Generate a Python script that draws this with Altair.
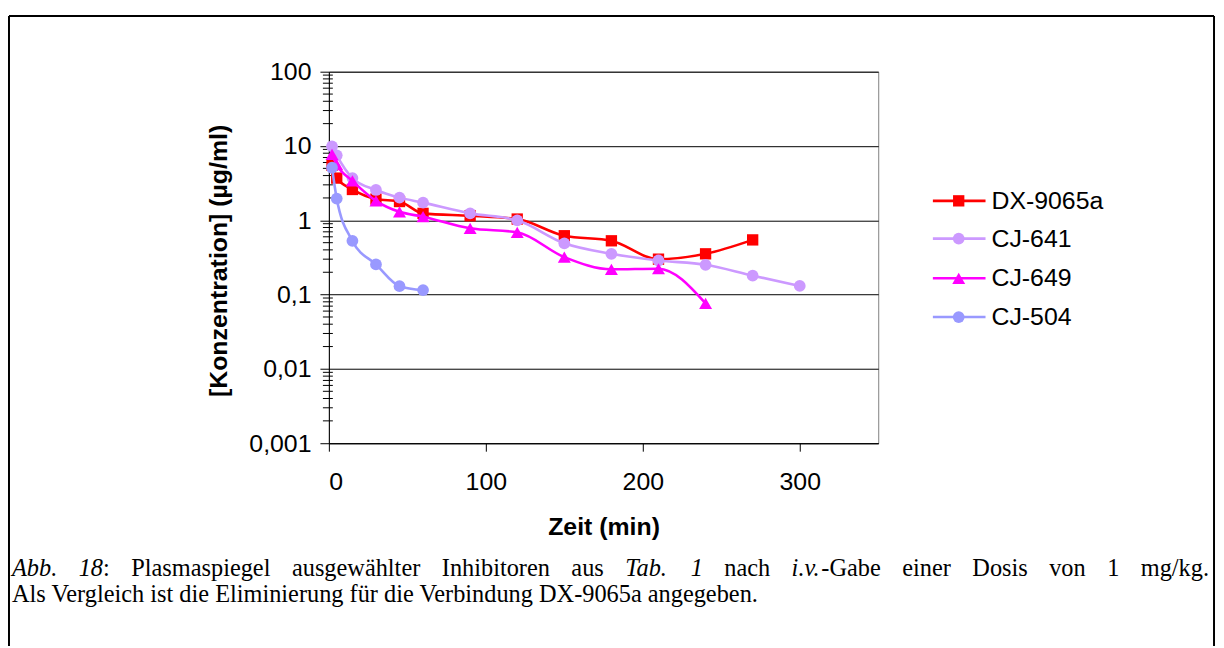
import altair as alt
import pandas as pd

# ---------------- data ----------------
series_names = ["DX-9065a", "CJ-641", "CJ-649", "CJ-504"]
series_colors = ["#FF0000", "#CC99FF", "#FF00FF", "#9999FF"]
series_shapes = ["square", "circle", "triangle-up", "circle"]
series_sizes = [130, 140, 170, 140]

time_dx = [2, 5, 15, 30, 45, 60, 90, 120, 150, 180, 210, 240, 270]
conc_dx = [5.5, 3.7, 2.6, 1.93, 1.79, 1.24, 1.15, 1.04, 0.62, 0.53, 0.30, 0.354, 0.545]

time_641 = [2, 5, 15, 30, 45, 60, 90, 120, 150, 180, 210, 240, 270, 300]
conc_641 = [9.9, 7.5, 3.7, 2.56, 2.02, 1.73, 1.24, 1.0, 0.49, 0.354, 0.288, 0.252, 0.18, 0.131]

time_649 = [2, 5, 15, 30, 45, 60, 90, 120, 150, 180, 210, 240]
conc_649 = [7.7, 5.6, 3.4, 1.83, 1.30, 1.12, 0.78, 0.69, 0.32, 0.219, 0.223, 0.076]

time_504 = [2, 5, 15, 30, 45, 60]
conc_504 = [5.1, 1.96, 0.53, 0.255, 0.13, 0.115]

series_times = [time_dx, time_641, time_649, time_504]
series_concs = [conc_dx, conc_641, conc_649, conc_504]

y_tick_values = [0.001, 0.01, 0.1, 1, 10, 100]
x_tick_values = [0, 100, 200, 300]
minor_values = [k * 10.0 ** e for e in range(-3, 2) for k in range(2, 10)]

x_title = "Zeit (min)"
y_title = "[Konzentration] (µg/ml)"

# caption: line 1 is justified (words made of styled pieces), line 2 left aligned
caption_line1 = [
    [("Abb.", True)],
    [("18", True), (":", False)],
    [("Plasmaspiegel", False)],
    [("ausgewählter", False)],
    [("Inhibitoren", False)],
    [("aus", False)],
    [("Tab.", True)],
    [("1", True)],
    [("nach", False)],
    [("i.v.", True), ("-Gabe", False)],
    [("einer", False)],
    [("Dosis", False)],
    [("von", False)],
    [("1", False)],
    [("mg/kg.", False)],
]
caption_line2 = "Als Vergleich ist die Eliminierung für die Verbindung DX-9065a angegeben."

# Times (Liberation Serif) advance widths, 1/1000 em, for justification
TIMES_REG = {':': 278, 'P': 556, 'l': 278, 'a': 444, 's': 389, 'm': 778, 'p': 500, 'i': 278,
             'e': 444, 'g': 500, 'u': 500, 'w': 722, 'ä': 444, 'h': 500, 't': 278, 'r': 333,
             'I': 333, 'n': 500, 'b': 500, 'o': 500, 'c': 444, '-': 333, 'G': 722, 'D': 722,
             'v': 500, '1': 500, 'k': 500, '/': 278, '.': 250}
TIMES_ITA = {'A': 611, 'b': 500, '.': 250, '1': 500, '8': 500, 'T': 556, 'a': 500, 'i': 278,
             'v': 444}

# ---------------- layout ----------------
W, H = 553, 374
PAD_L, PAD_T = 323, 62
TOTAL_W, TOTAL_H = 1216, 640
OX, OY = PAD_L + 8, PAD_T + 8  # page position of plot origin

FONT = "Liberation Sans"
SERIF = "Liberation Serif"
FS = 25
CAP_FS = 24.5

xscale = alt.Scale(domain=[0, 350], nice=False, zero=True)
yscale = alt.Scale(type="log", domain=[0.001, 100], nice=False)

x_axis = alt.Axis(
    values=x_tick_values, grid=False, title=x_title, format="d",
    labelFontSize=FS, titleFontSize=FS, titleFontWeight="bold",
    labelPadding=19, tickSize=8, titleY=84, titleBaseline="middle",
    domainColor="black", tickColor="black", labelColor="black", titleColor="black",
)
y_axis = alt.Axis(
    values=y_tick_values, grid=True, gridColor="black", gridOpacity=1, gridWidth=1,
    title=y_title,
    labelExpr="datum.value >= 1 ? format(datum.value, 'd') : replace(format(datum.value, '.3~f'), '.', ',')",
    labelFontSize=FS, titleFontSize=FS, titleFontWeight="bold",
    labelPadding=9, tickSize=9, titleX=-111, titleY=190, titleAngle=270,
    titleAlign="center", titleBaseline="middle",
    domainColor="black", tickColor="black", labelColor="black", titleColor="black",
)

X = alt.X("t:Q", scale=xscale, axis=x_axis)
Y = alt.Y("conc:Q", scale=yscale, axis=y_axis)

layers = []

# minor ticks of the log axis
minor_df = pd.DataFrame({"conc": minor_values})
layers.append(
    alt.Chart(minor_df).mark_rule(color="black", strokeWidth=1).encode(
        y=Y, x=alt.value(-6), x2=alt.value(4)
    )
)

# series
for name, col, shp, sz, ts, cs in zip(series_names, series_colors, series_shapes,
                                       series_sizes, series_times, series_concs):
    df = pd.DataFrame({"t": ts, "conc": cs, "series": name})
    layers.append(
        alt.Chart(df).mark_line(color=col, strokeWidth=2.6, interpolate="monotone").encode(x=X, y=Y)
    )
    layers.append(
        alt.Chart(df).mark_point(shape=shp, size=sz, filled=True, color=col, opacity=1).encode(x=X, y=Y)
    )

# custom legend (line + marker + text)
legend_y = [130, 168, 208, 247]
for i, (name, col, shp, sz) in enumerate(zip(series_names, series_colors, series_shapes, series_sizes)):
    ldf = pd.DataFrame({"series": [name]})
    yy = legend_y[i]
    layers.append(alt.Chart(ldf).mark_rule(color=col, strokeWidth=2.6).encode(
        x=alt.value(608), x2=alt.value(661), y=alt.value(yy)))
    layers.append(alt.Chart(ldf).mark_point(shape=shp, size=sz, filled=True, color=col, opacity=1).encode(
        x=alt.value(634), y=alt.value(yy)))
    layers.append(alt.Chart(ldf).mark_text(align="left", baseline="middle", font=FONT,
                                           fontSize=FS, color="black").encode(
        x=alt.value(667), y=alt.value(yy), text="series:N"))

# caption
def piece_width(txt, ital):
    table = TIMES_ITA if ital else TIMES_REG
    return sum(table.get(c, 500) for c in txt) * CAP_FS / 1000.0

def add_text(txt, px, py, ital):
    cdf = pd.DataFrame({"txt": [txt]})
    kw = dict(align="left", baseline="alphabetic", font=SERIF, fontSize=CAP_FS, color="black")
    if ital:
        kw["fontStyle"] = "italic"
    layers.append(alt.Chart(cdf).mark_text(**kw).encode(
        x=alt.value(px - OX), y=alt.value(py - OY), text="txt:N"))

line_left, line_right = 12, 1217
base1, base2 = 578, 604
word_w = [sum(piece_width(t, it) for t, it in w) for w in caption_line1]
gap = (line_right - line_left - sum(word_w)) / (len(caption_line1) - 1)
cx = line_left
for w, ww in zip(caption_line1, word_w):
    px = cx
    for t, it in w:
        add_text(t, px, base1, it)
        px += piece_width(t, it)
    cx += ww + gap
add_text(caption_line2, line_left, base2, False)

# outer frame lines
frame_df = pd.DataFrame({"f": [0]})
layers.append(alt.Chart(frame_df).mark_rule(color="black", strokeWidth=2).encode(
    x=alt.value(9 - OX), x2=alt.value(1222 - OX), y=alt.value(14 - OY)))
layers.append(alt.Chart(frame_df).mark_rule(color="black", strokeWidth=2).encode(
    x=alt.value(9 - OX), y=alt.value(14 - OY), y2=alt.value(648 - OY)))
layers.append(alt.Chart(frame_df).mark_rule(color="black", strokeWidth=2).encode(
    x=alt.value(1222 - OX), y=alt.value(14 - OY), y2=alt.value(648 - OY)))

chart = alt.layer(*layers).properties(
    width=W, height=H,
    padding={"left": PAD_L, "top": PAD_T, "right": TOTAL_W - PAD_L - W, "bottom": TOTAL_H - PAD_T - H},
    autosize=alt.AutoSizeParams(type="none"),
    background="white",
).configure_view(
    stroke="#808080", strokeWidth=1
).configure_axis(
    labelFont=FONT, titleFont=FONT
)

chart.save("out.html", embed_options={"renderer": "svg", "actions": False})
